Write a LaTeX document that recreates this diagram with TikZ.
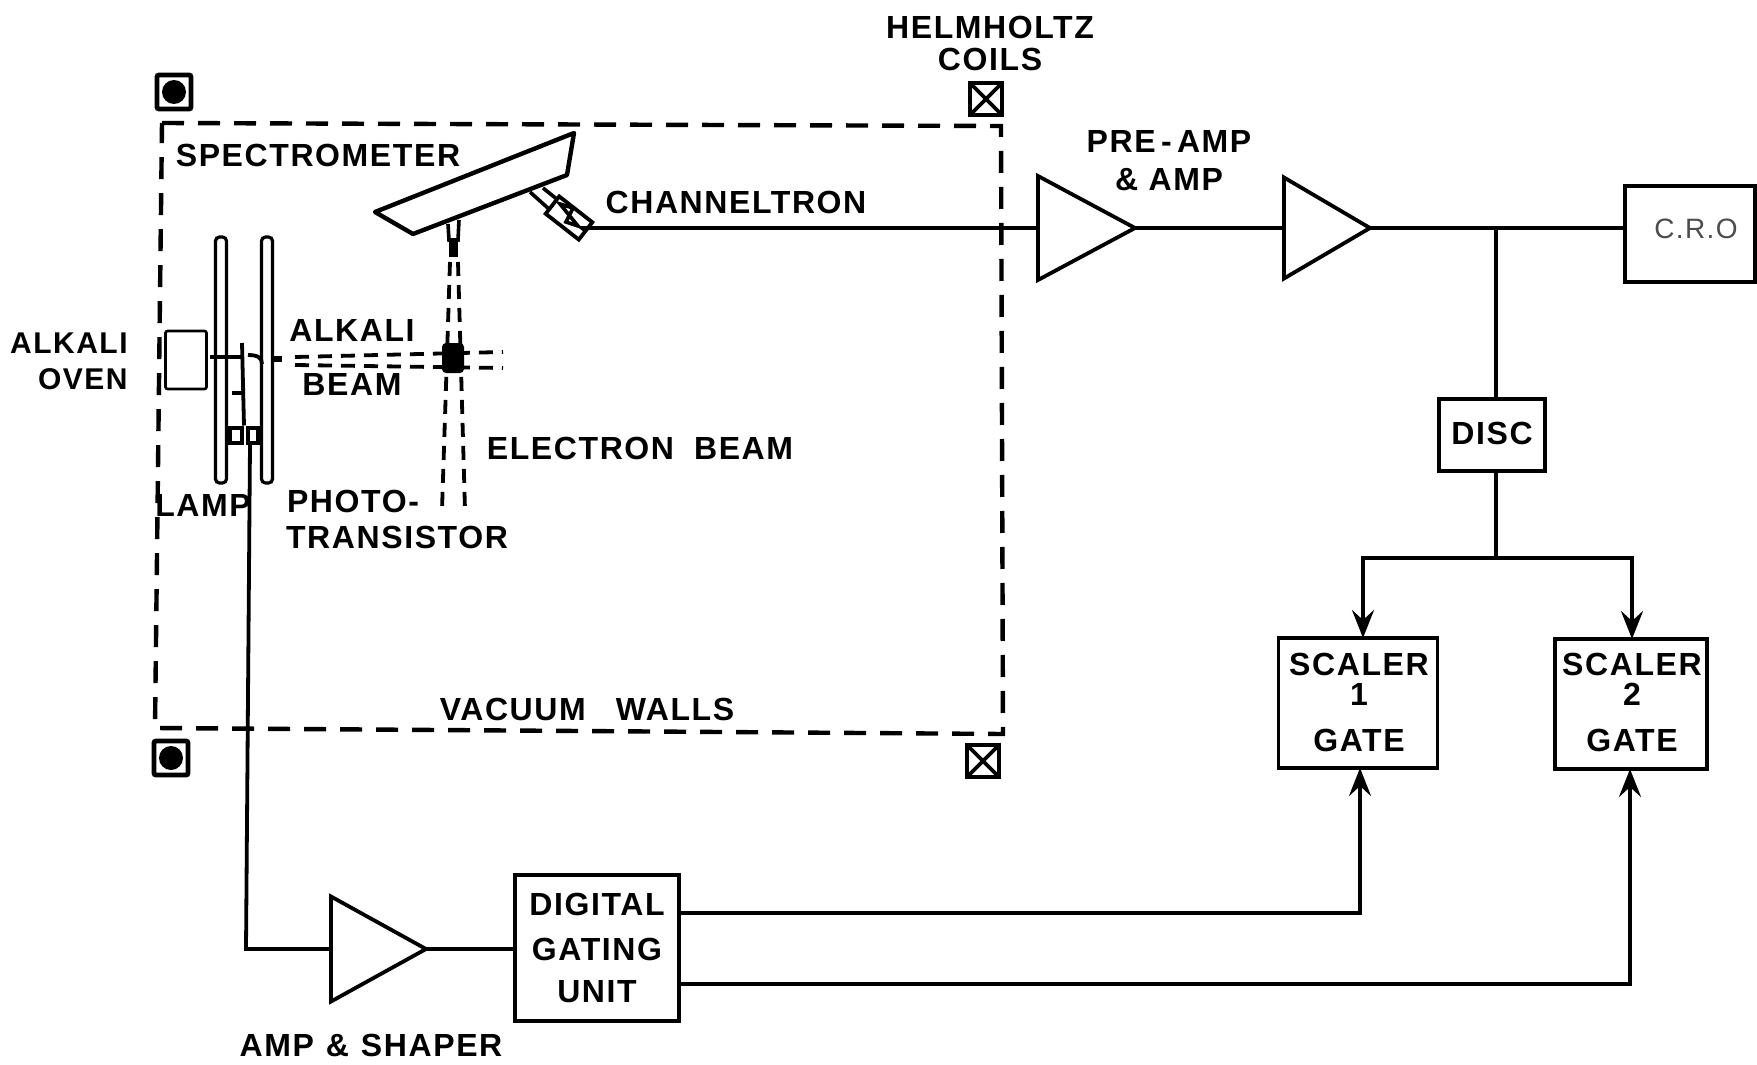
\documentclass[tikz,border=0pt]{standalone}
\usepackage{fontspec}
\setmainfont[LetterSpace=5]{Liberation Sans}
\usetikzlibrary{positioning,arrows.meta,shapes.geometric}
\tikzset{
  wire/.style     = {line width=1.9pt},
  flow/.style     = {line width=1.9pt, -{Stealth[length=14pt,width=11pt,inset=5pt]}},
  unit/.style     = {draw, line width=1.9pt, inner sep=0pt, outer sep=0pt, align=center,
                     font=\fontsize{16}{18}\selectfont\bfseries},
  amp/.style      = {draw, line width=1.9pt, isosceles triangle, isosceles triangle stretches,
                     shape border rotate=0, inner sep=0pt, outer sep=0pt, anchor=apex},
  lbl/.style      = {inner sep=0pt, align=center, font=\fontsize{16}{18}\selectfont\bfseries},
  walls/.style    = {line width=2.2pt, dash pattern=on 11pt off 7pt},
  beam/.style     = {line width=1.9pt, dash pattern=on 7pt off 4.5pt},
  thinbox/.style  = {draw, line width=1.6pt, inner sep=0pt, outer sep=0pt},
  coildot/.style  = {draw, line width=2.4pt, minimum size=17pt, inner sep=0pt, rounded corners=1pt,
                     path picture={\fill (path picture bounding box.center) circle (6pt);}},
  coilcross/.style= {draw, line width=2.4pt, minimum size=16pt, inner sep=0pt,
                     path picture={\draw[line width=1.8pt] (path picture bounding box.north west) -- (path picture bounding box.south east)
                       (path picture bounding box.north east) -- (path picture bounding box.south west);}},
}
\begin{document}
\begin{tikzpicture}[x=0.5pt, y=-0.5pt]
\useasboundingbox (0,0) rectangle (1757,1065);

% ---- vacuum chamber and coils ----
\draw[walls] (162,123) -- (1001,126) -- (1003,734) -- (155,728) -- cycle;
\node[coildot] (coilA) at (174,92) {};
\node[coildot] (coilB) at (171,758) {};
\node[coilcross] (coilC) at (986,99) {};
\node[coilcross] (coilD) at (983,761) {};
\node[lbl] (helm) at (990,43) {HELMHOLTZ\\[-2pt]COILS};
\node[lbl] (vac) at (587,709) {VACUUM\hspace{15pt}WALLS};

% ---- spectrometer ----
\draw[line width=2.2pt, line join=round] (375,212) -- (413,234) -- (567,175) -- (574,133) -- cycle;
\draw[line width=1.8pt] (448,224) -- (449,240) -- (458,240) -- (459,220);
\draw[line width=4.5pt] (453,240) -- (453,257);
\draw[line width=1.8pt] (530,192) -- (550,210) (543,188) -- (558,200);
\node[thinbox, line width=1.9pt, minimum width=21pt, minimum height=11pt, rotate=-38] (chan) at (569,218) {};
\draw[line width=1.8pt] (560,204) -- (578,226) -- (566,222) -- (573,208) -- cycle;
\node[lbl] (spec) at (318,155) {SPECTROMETER};
\node[lbl] (chanlbl) at (736,202) {CHANNELTRON};

% ---- beams ----
\draw[beam] (295,357) -- (503,352);
\draw[beam] (295,365) -- (503,368);
\draw[beam] (450,262) -- (442,510);
\draw[beam] (458,262) -- (465,510);
\node[fill, rounded corners=2pt, minimum width=11pt, minimum height=15pt, inner sep=0pt] (spot) at (453,358) {};
\node[lbl] (ebeam) at (640,448) {ELECTRON\hspace{10pt}BEAM};
\node[lbl] (abeam) at (352,357) {ALKALI\\[9pt]BEAM};

% ---- oven, plates, lamp ----
\node[thinbox, line width=1.3pt, rounded corners=1pt, minimum width=20.5pt, minimum height=29pt] (oven) at (186,360) {};
\node[lbl, anchor=east, align=right, font=\fontsize{15}{18}\selectfont\bfseries] (ovenlbl) at (128,361) {ALKALI\\OVEN};
\node[thinbox, rounded corners=2pt, minimum width=5.5pt, minimum height=123pt] (plateA) at (221,360) {};
\node[thinbox, rounded corners=2pt, minimum width=5.5pt, minimum height=123pt] (plateB) at (267,360) {};
\node[draw, line width=2pt, minimum width=6pt, minimum height=7.5pt, inner sep=0pt] (lamp) at (236,435) {};
\node[draw, line width=2pt, minimum width=5pt, minimum height=7.5pt, inner sep=0pt] (photo) at (253,435) {};
\draw[line width=1.9pt] (210,357) -- (242,357) (242,343) -- (lamp.north east);
\draw[line width=1.6pt] (232,393) -- (242,393);
\draw[line width=1.9pt] (248,355) .. controls (258,355) and (262,358) .. (262,364);
\draw[line width=3pt] (272,359) -- (282,359);
\node[lbl] (lamplbl) at (203,505) {LAMP};
\node[lbl] (photolbl) at (397,519) {PHOTO-\hspace{44pt}\mbox{}\\TRANSISTOR};

% ---- top chain ----
\node[amp, minimum width=52pt, minimum height=48.5pt] (preamp) at (1135,228) {};
\node[amp, minimum width=50.5pt, minimum height=43pt] (mainamp) at (1370,228) {};
\node[unit, minimum width=65pt, minimum height=48pt] (cro) at (1690,234) {};
\node[lbl, text=black!70, font=\fontsize{14}{16}\selectfont] (crolbl) at (1696,229) {C.R.O};
\node[unit, minimum width=53pt, minimum height=36pt] (disc) at (1492,435) {\raisebox{1.5pt}{DISC}};
\node[lbl] (preamplbl) at (1169,161) {PRE\,-\,AMP\\[1pt]\&\ AMP};
\coordinate (tap) at (1496,228);
\coordinate (split) at (1496,558);
\draw[wire] (chan.east) -- (582,228) -- (preamp.lower side |- tap);
\draw[wire] (preamp.apex) -- (mainamp.lower side);
\draw[wire] (mainamp.apex) -- (tap) -- (cro.west |- tap);
\draw[wire] (tap) -- (disc.north -| tap);
\draw[wire] (disc.south -| tap) -- (split);

% ---- scalers ----
\node[unit, minimum width=79.5pt, minimum height=65pt] (scalerA) at (1358,703) {};
\node[unit, minimum width=76pt, minimum height=65pt] (scalerB) at (1631,704) {};
\node[lbl] (scalerAlbl) at (1359,702) {SCALER\\[-3pt]1\\[5pt]GATE};
\node[lbl] (scalerBlbl) at (1632,702) {SCALER\\[-3pt]2\\[5pt]GATE};
\draw[flow] (split) -| (1363,638);
\draw[flow] (split) -| (1632,639);

% ---- gating chain ----
\node[amp, minimum width=52.5pt, minimum height=47.5pt] (shaper) at (426,949) {};
\node[unit, minimum width=82pt, minimum height=73pt] (gating) at (597,948) {DIGITAL\\[4.4pt]GATING\\[3.3pt]UNIT};
\node[lbl] (shaperlbl) at (371,1045) {AMP\hspace{6pt}\&\hspace{6pt}SHAPER};
\draw[wire] ([xshift=-1.5pt]photo.south) -- (246,949) -- (shaper.lower side |- 0,949);
\draw[wire] (shaper.apex) -- (gating.west |- 0,949);
\draw[flow] (gating.east |- 0,913) -| (scalerA.south -| 1360,0);
\draw[flow] (gating.east |- 0,984) -| (scalerB.south -| 1630,0);

\end{tikzpicture}
\end{document}
